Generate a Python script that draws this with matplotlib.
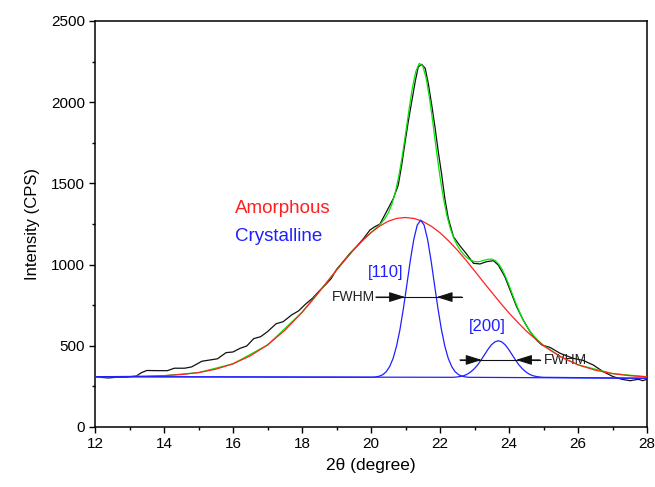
import matplotlib
matplotlib.use('Agg')
import matplotlib.pyplot as plt

plt.rcParams['font.family'] = ['Liberation Sans', 'DejaVu Sans']

# measured XRD pattern (black)
raw_x = [12.0, 12.2, 12.4, 12.6, 12.9, 13.2, 13.35, 13.5, 13.8, 14.1, 14.3, 14.6, 14.8,
         15.1, 15.4, 15.55, 15.8, 16.0, 16.2, 16.4, 16.6, 16.8, 17.0, 17.25, 17.45, 17.7,
         17.9, 18.1, 18.3, 18.5, 18.7, 18.85, 19.0, 19.2, 19.4, 19.6, 19.8, 19.97, 20.1,
         20.26, 20.45, 20.65, 20.79, 20.89, 20.99, 21.08, 21.18, 21.28, 21.37, 21.47, 21.57,
         21.66, 21.76, 21.86, 21.95, 22.05, 22.14, 22.24, 22.39, 22.58, 22.77, 22.97, 23.16,
         23.35, 23.55, 23.69, 23.88, 24.03, 24.22, 24.41, 24.61, 24.8, 24.95, 25.19, 25.48,
         25.86, 26.15, 26.44, 26.73, 27.02, 27.27, 27.51, 27.75, 27.88, 28.0]
raw_y = [310, 305, 302, 306, 307, 314, 335, 348, 347, 347, 362, 362, 370,
         405, 415, 420, 458, 462, 484, 499, 544, 556, 587, 636, 648, 690,
         715, 756, 792, 838, 880, 915, 970, 1020, 1072, 1115, 1165, 1213, 1232,
         1250, 1326, 1408, 1490, 1613, 1757, 1880, 2003, 2126, 2218, 2233, 2209,
         2116, 1983, 1839, 1695, 1552, 1408, 1285, 1172, 1115, 1065, 1008, 1004,
         1018, 1024, 997, 925, 844, 741, 659, 587, 536, 505, 490, 454,
         423, 410, 382, 341, 310, 294, 285, 294, 285, 295]

# amorphous halo (red)
amor_x = [12, 12.5, 13, 13.5, 14, 14.5, 15, 15.5, 16, 16.5, 17, 17.5, 18, 18.25, 18.5,
          18.75, 19, 19.25, 19.5, 19.75, 20, 20.25, 20.5, 20.75, 21, 21.25, 21.5, 21.75,
          22, 22.25, 22.5, 22.75, 23, 23.25, 23.5, 23.75, 24, 24.25, 24.5, 25, 25.5, 26,
          26.5, 27, 27.5, 28]
amor_y = [310, 310, 311, 312, 316, 323, 335, 356, 389, 438, 505, 595, 706, 768, 833,
          899, 966, 1030, 1092, 1148, 1197, 1237, 1267, 1285, 1290, 1284, 1266, 1236,
          1196, 1146, 1090, 1028, 962, 895, 829, 764, 702, 645, 591, 500, 432, 383,
          350, 329, 316, 309]

# crystalline peak [110] (blue)
p110_x = [12, 20.04, 20.14, 20.24, 20.34, 20.44, 20.54, 20.64, 20.74, 20.84, 20.94, 21.04,
          21.14, 21.24, 21.34, 21.44, 21.54, 21.64, 21.74, 21.84, 21.94, 22.04, 22.14,
          22.24, 22.34, 22.44, 22.54, 22.64, 22.74, 22.84, 28]
p110_y = [310, 306, 308, 313, 322, 340, 372, 422, 498, 601, 731, 877,
          1026, 1155, 1243, 1274, 1243, 1155, 1026, 877, 731, 601, 498,
          422, 372, 340, 322, 313, 308, 306, 300]

# crystalline peak [200] (blue)
p200_x = [12, 22.39, 22.49, 22.59, 22.69, 22.79, 22.89, 22.99, 23.09, 23.19, 23.29, 23.39,
          23.49, 23.59, 23.69, 23.79, 23.89, 23.99, 24.09, 24.19, 24.29, 24.39, 24.49,
          24.59, 24.69, 24.79, 24.89, 24.99, 28]
p200_y = [310, 306, 308, 311, 316, 325, 339, 358, 382, 412, 445, 478,
          506, 524, 531, 524, 506, 478, 445, 412, 382, 358, 339,
          325, 316, 311, 308, 306, 300]

# cumulative fit (green)
fit_x = [12, 13, 14, 15, 16, 17, 18, 18.5, 19, 19.5, 19.8, 19.9, 20.0, 20.1, 20.2, 20.3,
         20.4, 20.5, 20.6, 20.7, 20.8, 20.9, 21.0, 21.1, 21.2, 21.3, 21.4, 21.5, 21.6,
         21.7, 21.8, 21.9, 22.0, 22.1, 22.2, 22.3, 22.4, 22.5, 22.6, 22.7, 22.8, 22.9,
         23.0, 23.1, 23.2, 23.3, 23.4, 23.5, 23.6, 23.7, 23.8, 23.9, 24.0, 24.1, 24.2,
         24.3, 24.4, 24.5, 24.6, 24.7, 24.8, 24.9, 25.0, 25.5, 26, 27, 28]
fit_y = [310, 311, 316, 335, 389, 505, 706, 833, 966, 1092, 1157, 1177, 1196, 1216, 1235, 1256,
         1283, 1318, 1369, 1441, 1538, 1661, 1803, 1952, 2089, 2190, 2239, 2223, 2147,
         2020, 1862, 1697, 1541, 1408, 1302, 1221, 1163, 1118, 1085, 1059, 1039, 1026,
         1019, 1017, 1022, 1028, 1033, 1034, 1025, 1004, 971, 926, 874, 817, 761,
         710, 663, 625, 592, 565, 542, 522, 503, 432, 383, 329, 309]

# FWHM markers: (line start, arrow tip, arrow tip, line end, level)
fwhm_110 = [20.14, 20.99, 21.90, 22.63, 800]
fwhm_200 = [22.58, 23.21, 24.20, 24.90, 413]

fig = plt.figure(figsize=(6.55, 4.87), dpi=100)
ax = fig.add_axes([95 / 655, 60 / 487, 552 / 655, 406 / 487])

ax.plot(raw_x, raw_y, color='#111111', lw=0.9, zorder=2)
ax.plot(fit_x, fit_y, color='#00e600', lw=0.9, zorder=3)
ax.plot(amor_x, amor_y, color='#ff2020', lw=0.9, zorder=4)
ax.plot(p110_x, p110_y, color='#2020ff', lw=0.9, zorder=5)
ax.plot(p200_x, p200_y, color='#2020ff', lw=0.9, zorder=5)

ax.set_xlim(12, 28)
ax.set_ylim(0, 2500)
ax.set_xticks(range(12, 29, 2))
ax.set_xticks(range(13, 28, 2), minor=True)
ax.set_yticks(range(0, 2501, 500))
ax.set_yticks(range(250, 2500, 500), minor=True)
ax.tick_params(which='major', direction='out', length=4, width=1, labelsize=11, pad=3)
ax.tick_params(which='minor', direction='out', length=2.5, width=1)
for s in ax.spines.values():
    s.set_linewidth(1.1)

ax.set_xlabel('2θ (degree)', fontsize=12.5, labelpad=5)
ax.set_ylabel('Intensity (CPS)', fontsize=12, labelpad=8)

# labels
ax.text(16.06, 1348, 'Amorphous', color='#ff2020', fontsize=13.5, va='center', ha='left')
ax.text(16.06, 1176, 'Crystalline', color='#2020ff', fontsize=13.5, va='center', ha='left')
ax.text(20.42, 954, '[110]', color='#2020ff', fontsize=12, va='center', ha='center')
ax.text(23.36, 618, '[200]', color='#2020ff', fontsize=12, va='center', ha='center')
ax.text(20.12, 800, 'FWHM', color='#222222', fontsize=10, va='center', ha='right')
ax.text(25.02, 413, 'FWHM', color='#222222', fontsize=10, va='center', ha='left')

# FWHM arrows
arw = dict(arrowstyle='-|>,head_length=0.7,head_width=0.22', color='#111111', lw=0.8,
           mutation_scale=14, shrinkA=0, shrinkB=0)
for x0, t1, t2, x1, lev in (fwhm_110, fwhm_200):
    ax.plot([x0, x1], [lev, lev], color='#111111', lw=0.8, zorder=6)
    ax.annotate('', xy=(t1, lev), xytext=(x0, lev), arrowprops=arw, zorder=6)
    ax.annotate('', xy=(t2, lev), xytext=(x1, lev), arrowprops=arw, zorder=6)

fig.savefig('out.png', dpi=100, facecolor='white')
plt.close()
